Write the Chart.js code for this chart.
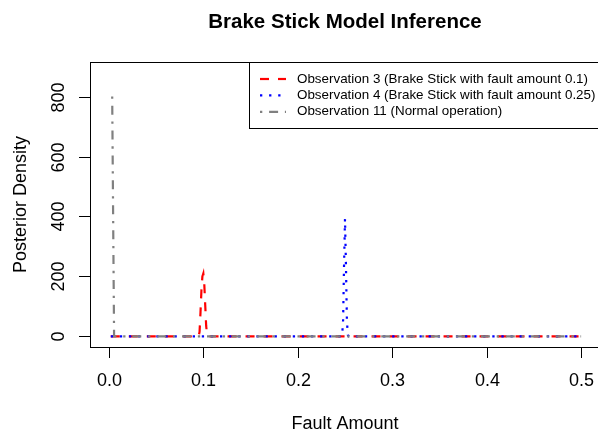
<!DOCTYPE html>
<html>
<head>
<meta charset="utf-8">
<script src="https://cdn.jsdelivr.net/npm/chart.js@4.4.1/dist/chart.umd.min.js"></script>
<style>
  html, body { margin: 0; padding: 0; background: #ffffff; overflow: hidden; }
  #wrap { position: relative; width: 598px; height: 432px; overflow: hidden; }
  canvas { display: block; }
</style>
</head>
<body>
<div id="wrap"><canvas id="c" width="600" height="432"></canvas></div>
<script>
// ---- Data ----
const chartTitle = "Brake Stick Model Inference";
const xAxisTitle = "Fault Amount";
const yAxisTitle = "Posterior Density";
const xTickValues = [0.0, 0.1, 0.2, 0.3, 0.4, 0.5];
const xTickLabels = ["0.0", "0.1", "0.2", "0.3", "0.4", "0.5"];
const yTickValues = [0, 200, 400, 600, 800];
const yTickLabels = ["0", "200", "400", "600", "800"];

const seriesNames = [
  "Observation 3 (Brake Stick with fault amount 0.1)",
  "Observation 4 (Brake Stick with fault amount 0.25)",
  "Observation 11 (Normal operation)"
];

// Observation 3: spike near 0.1
const obs3X = [0.002, 0.095, 0.096, 0.097, 0.098, 0.099, 0.100, 0.101, 0.102, 0.103, 0.104, 0.105, 0.500];
const obs3Y = [0,     0,     15,    80,    155,   200,   210,   175,   105,   35,    5,     0,     0];
// Observation 4: spike at 0.25
const obs4X = [0.002, 0.246, 0.247, 0.248, 0.249, 0.250, 0.251, 0.252, 0.253, 0.254, 0.500];
const obs4Y = [0,     0,     5,     55,    240,   392,   240,   55,    5,     0,     0];
// Observation 11: spike next to 0
const obs11X = [0.0035, 0.0055, 0.500];
const obs11Y = [800,    0,      0];

function pts(xs, ys) { return xs.map((x, i) => ({ x: x, y: ys[i] })); }

const FONT = "'Liberation Sans', Arial, Helvetica, sans-serif";

const rAxesPlugin = {
  id: 'rAxes',
  afterDraw(chart) {
    const ctx = chart.ctx;
    const a = chart.chartArea;
    const xs = chart.scales.x, ys = chart.scales.y;
    ctx.save();
    ctx.strokeStyle = '#000';
    ctx.fillStyle = '#000';
    ctx.lineWidth = 1;
    // box
    ctx.strokeRect(Math.round(a.left) + 0.5, Math.round(a.top) + 0.5,
                   Math.round(a.right - a.left), Math.round(a.bottom - a.top));
    // x ticks
    ctx.font = "18px " + FONT;
    ctx.textAlign = 'center';
    ctx.textBaseline = 'middle';
    xTickValues.forEach((v, i) => {
      const px = Math.round(xs.getPixelForValue(v)) + 0.5;
      ctx.beginPath();
      ctx.moveTo(px, a.bottom);
      ctx.lineTo(px, a.bottom + 11);
      ctx.stroke();
      ctx.fillText(xTickLabels[i], px, a.bottom + 34);
    });
    // y ticks
    yTickValues.forEach((v, i) => {
      const py = Math.round(ys.getPixelForValue(v)) + 0.5;
      ctx.beginPath();
      ctx.moveTo(a.left, py);
      ctx.lineTo(a.left - 11, py);
      ctx.stroke();
      ctx.save();
      ctx.translate(a.left - 31, py);
      ctx.rotate(-Math.PI / 2);
      ctx.fillText(yTickLabels[i], 0, 0);
      ctx.restore();
    });
    // axis titles
    const cx = (a.left + a.right) / 2;
    const cy = (a.top + a.bottom) / 2;
    ctx.fillText(xAxisTitle, cx, a.bottom + 77);
    ctx.save();
    ctx.translate(21, cy);
    ctx.rotate(-Math.PI / 2);
    ctx.fillText(yAxisTitle, 0, 0);
    ctx.restore();
    // main title
    ctx.font = "bold 20.5px " + FONT;
    ctx.fillText(chartTitle, cx, 22);

    // legend (R style, top right)
    const ds = chart.data.datasets;
    const lx0 = 249, ly0 = a.top, lx1 = a.right, ly1 = 128;
    ctx.fillStyle = '#fff';
    ctx.fillRect(lx0, ly0, lx1 - lx0, ly1 - ly0);
    ctx.strokeStyle = '#000';
    ctx.lineWidth = 1;
    ctx.strokeRect(lx0 + 0.5, ly0 + 0.5, lx1 - lx0, ly1 - ly0);
    ctx.font = "13.4px " + FONT;
    ctx.textAlign = 'left';
    ctx.fillStyle = '#000';
    ds.forEach((d, i) => {
      const y = 79 + i * 16.4;
      ctx.save();
      ctx.strokeStyle = d.borderColor;
      ctx.lineWidth = d.borderWidth;
      ctx.setLineDash(d.borderDash);
      ctx.lineCap = 'butt';
      ctx.beginPath();
      ctx.moveTo(260, y);
      ctx.lineTo(286, y);
      ctx.stroke();
      ctx.restore();
      ctx.fillText(d.label, 297, y);
    });
    ctx.restore();
  }
};

const chart = new Chart(document.getElementById('c'), {
  type: 'line',
  data: {
    datasets: [
      { label: seriesNames[0], data: pts(obs3X, obs3Y), borderColor: '#FF0000', borderWidth: 2.2,
        borderDash: [9, 9], order: 3 },
      { label: seriesNames[1], data: pts(obs4X, obs4Y), borderColor: '#0000FF', borderWidth: 2.2,
        borderDash: [2.3, 6.8], order: 2 },
      { label: seriesNames[2], data: pts(obs11X, obs11Y), borderColor: '#808080', borderWidth: 2.2,
        borderDash: [2.3, 6.8, 9, 6.8], order: 1 }
    ]
  },
  options: {
    responsive: false,
    animation: false,
    events: [],
    layout: { padding: { left: 90, right: 0, top: 62, bottom: 85 } },
    elements: {
      point: { radius: 0 },
      line: { tension: 0, fill: false, borderCapStyle: 'butt', borderJoinStyle: 'miter' }
    },
    plugins: { legend: { display: false }, title: { display: false }, tooltip: { enabled: false } },
    scales: {
      x: { type: 'linear', display: false, min: -0.02, max: 0.52 },
      y: { type: 'linear', display: false, min: -35.2, max: 915.2 }
    }
  },
  plugins: [rAxesPlugin]
});
</script>
</body>
</html>
